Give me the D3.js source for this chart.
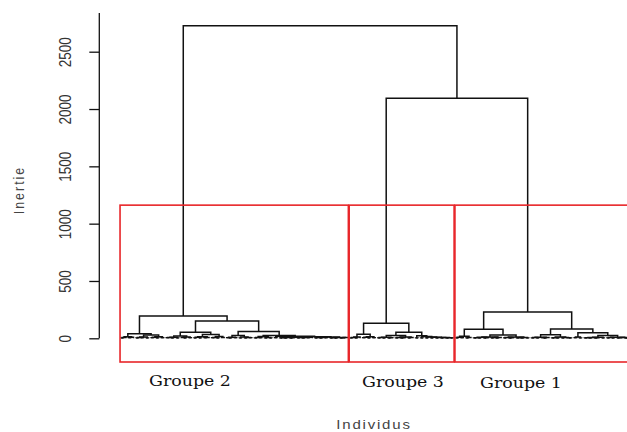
<!DOCTYPE html>
<html>
<head>
<meta charset="utf-8">
<script src="https://cdn.jsdelivr.net/npm/d3@7"></script>
<style>
  body { margin: 0; background: #fff; }
  svg { display: block; }
</style>
</head>
<body>
<svg id="chart" width="627" height="432"></svg>
<script>
//  merge height between each pair of neighbouring leaves, in dendrogram order
//  (the tree is rebuilt from these: the highest gap in a range is its top merge)
const group2Gaps = [
    3, 8, 14, 5, 9,
    40,
    2, 6, 4, 11, 3, 29, 5, 9, 2, 13, 4,
    195,
    4, 7, 2, 10, 3, 21, 6, 2, 12, 5,
    52,
    3, 9, 2, 14, 5, 7, 33, 4, 8, 3, 16, 6,
    151,
    5, 2, 9, 4, 24, 3, 11, 2, 7, 4,
    60,
    2, 8, 4, 15, 3, 6, 2,
    25,
    5,
    18,
    2, 5, 3, 8, 2, 4, 10, 3, 6, 2, 7, 4, 9, 14, 3, 6, 2, 8, 4, 11, 2, 5, 3, 7, 2, 4, 6
];
const group3Gaps = [
    3, 7, 2, 12, 35, 4, 9, 2, 14, 5,
    131,
    2, 6, 3, 10, 2, 5, 24, 3, 8, 2, 4, 11, 3, 6,
    52,
    3, 22, 2, 16, 3, 12, 2, 9, 3, 7, 2, 6, 3, 4, 2
];
const group1Gaps = [
    3, 9, 4, 17, 2, 6,
    78,
    2, 5, 3, 9, 2, 4, 12, 3, 6, 2, 8, 28, 3, 7, 2, 5, 11, 3, 4, 2, 6, 3,
    229,
    3, 6, 2, 10, 4, 2, 7, 30, 2, 5, 3, 12, 2, 6, 4, 3,
    81,
    4, 12, 3,
    49,
    2, 5, 3, 8, 2, 4, 9, 3, 24, 2, 6, 3, 10, 2, 4, 7, 3, 5, 2, 4
];
//  the two top merges: Groupe 2 | rest, then Groupe 3 | Groupe 1
const joinHeights = [2727, 2094];
const groupNames = ["Groupe 2", "Groupe 3", "Groupe 1"];
const yTicks = [0, 500, 1000, 1500, 2000, 2500];

//  layout
const W = 627, H = 432;
const plotTop = 13, plotBottom = 362;
const axisX = 99.3;
const firstLeafX = 120.9, leafStep = 2.518;
const stretch = 1.2;     // the picture is a little wider than tall

const svg = d3.select("#chart");

const gaps = [...group2Gaps, joinHeights[0], ...group3Gaps, joinHeights[1], ...group1Gaps];
const nLeaves = gaps.length + 1;

const groupSizes = [group2Gaps.length + 1, group3Gaps.length + 1, group1Gaps.length + 1];
let start = 0;
const groups = groupSizes.map((n, i) => {
    const g = {name: groupNames[i], first: start, last: start + n - 1};
    start += n;
    return g;
});

const x = d3.scaleLinear()
    .domain([0, nLeaves - 1])
    .range([firstLeafX, firstLeafX + (nLeaves - 1) * leafStep]);
const y = d3.scaleLinear()
    .domain([0, 2500])
    .range([338.3, 51.7]);

//  rebuild the merges
const merges = [];
function build(lo, hi) {
    if (lo === hi) return {x: lo, h: 0};
    let k = lo;
    for (let i = lo; i < hi; i++) if (gaps[i] > gaps[k]) k = i;
    const left = build(lo, k);
    const right = build(k + 1, hi);
    const node = {x: (left.x + right.x) / 2, h: gaps[k], left: left, right: right};
    merges.push(node);
    return node;
}
build(0, nLeaves - 1);

//  dendrogram
svg.append("g")
    .selectAll("path")
    .data(merges)
    .join("path")
    .attr("d", d => `M${x(d.left.x)},${y(d.left.h)}V${y(d.h)}H${x(d.right.x)}V${y(d.right.h)}`)
    .attr("fill", "none")
    .attr("stroke", "#111")
    .attr("stroke-width", 1.5);

//  rect.hclust style boxes, k = 3
const cutHeight = (joinHeights[1] + d3.max(group1Gaps.concat(group2Gaps, group3Gaps))) / 2;
svg.append("g")
    .selectAll("rect")
    .data(groups)
    .join("rect")
    .attr("x", d => x(d.first - 0.34))
    .attr("y", y(cutHeight))
    .attr("width", d => x(d.last + 0.33) - x(d.first - 0.34))
    .attr("height", plotBottom - y(cutHeight))
    .attr("fill", "none")
    .attr("stroke", "#e8262a")
    .attr("stroke-width", 1.6);

//  y axis
const yAxis = svg.append("g")
    .attr("transform", `translate(${axisX},0)`)
    .call(d3.axisLeft(y).tickValues(yTicks).tickFormat(d3.format("d")).tickSize(10).tickSizeOuter(0));
yAxis.select(".domain").remove();
yAxis.selectAll(".tick line").attr("stroke", "#111").attr("stroke-width", 1.3);
yAxis.selectAll(".tick text")
    .attr("x", null).attr("dy", null)
    .attr("text-anchor", "middle")
    .attr("transform", `translate(-28.8,0) rotate(-90) scale(1,${stretch})`)
    .attr("font-family", "Liberation Sans, Arial, sans-serif")
    .attr("font-size", 13.5)
    .attr("fill", "#333");
yAxis.append("line")
    .attr("x1", 0).attr("x2", 0)
    .attr("y1", y(0)).attr("y2", plotTop)
    .attr("stroke", "#111").attr("stroke-width", 1.3);

//  group names (added by hand on the original)
const labelPos = [[190, 386], [403, 387], [521, 388]];
svg.append("g")
    .selectAll("text")
    .data(groups)
    .join("text")
    .attr("transform", (d, i) => `translate(${labelPos[i][0]},${labelPos[i][1]}) scale(${stretch},1)`)
    .attr("text-anchor", "middle")
    .attr("font-family", "DejaVu Serif, serif")
    .attr("font-size", 14.5)
    .attr("fill", "#111")
    .text(d => d.name);

//  axis titles
svg.append("text")
    .attr("transform", `translate(374,429) scale(${stretch},1)`)
    .attr("text-anchor", "middle")
    .attr("font-family", "Liberation Sans, Arial, sans-serif")
    .attr("font-size", 12.5)
    .attr("letter-spacing", 1.5)
    .attr("fill", "#444")
    .text("Individus");

svg.append("text")
    .attr("transform", `translate(23.5,190) rotate(-90) scale(1,${stretch})`)
    .attr("text-anchor", "middle")
    .attr("font-family", "Liberation Sans, Arial, sans-serif")
    .attr("font-size", 12.4)
    .attr("letter-spacing", 2)
    .attr("fill", "#444")
    .text("Inertie");
</script>
</body>
</html>
